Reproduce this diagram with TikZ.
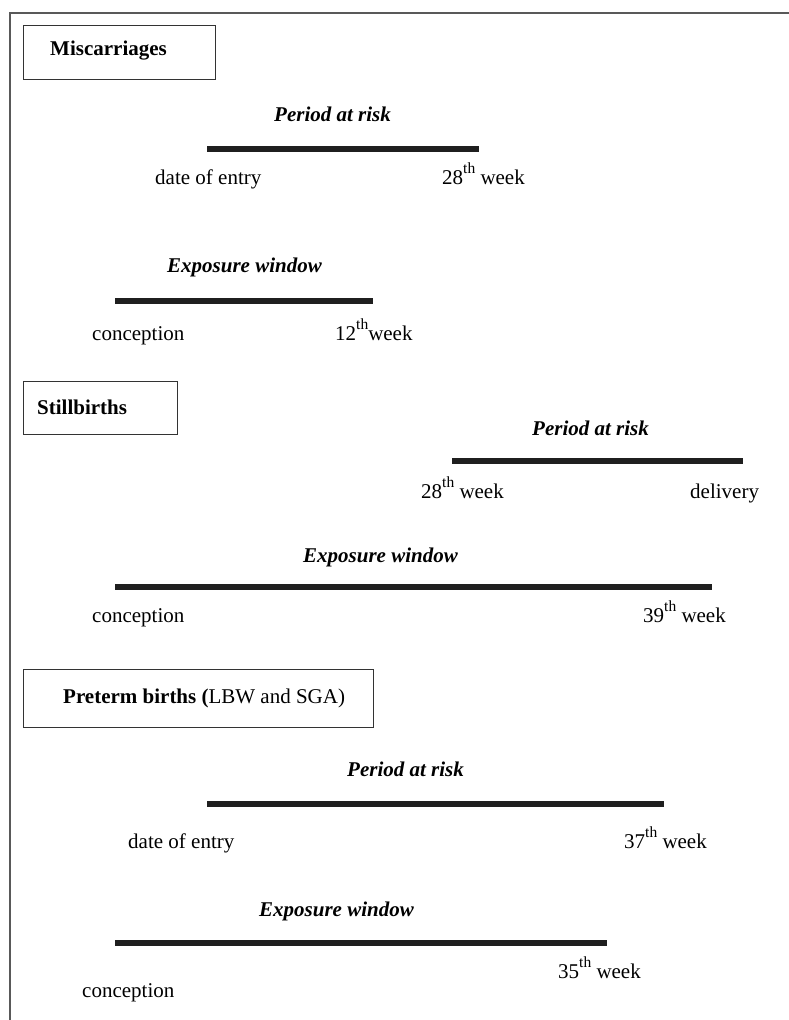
\documentclass[tikz,border=0pt]{standalone}
\usepackage{fontspec}
\setmainfont{Liberation Serif}
\newcommand{\supth}{\raisebox{0.48em}{\fontsize{15.5}{16}\selectfont th}}
\begin{document}
\begin{tikzpicture}[x=1pt,y=-1pt,
  lbl/.style={anchor=base west,inner sep=0pt,font=\fontsize{21}{25}\selectfont},
  ttl/.style={lbl,font=\fontsize{21}{25}\selectfont\bfseries\itshape},
  hdr/.style={lbl,font=\fontsize{21}{25}\selectfont\bfseries},
  bar/.style={line width=5.5pt,color=black!88},
  hbox/.style={draw=black!80,line width=1pt},
  frame/.style={draw=black!65,line width=1.5pt}]
\useasboundingbox (0,0) rectangle (789,1020);
% frame
\coordinate (f1) at (789,13);
\coordinate (f2) at (10,13);
\coordinate (f3) at (10,1020);
\draw[frame] (f1) -- (f2) -- (f3);

% ---------- Miscarriages ----------
\draw[hbox] (23,25) rectangle (215,79);
\node[hdr] (h1) at (50,55) {Miscarriages};
\node[ttl] (t1) at (274,121) {Period at risk};
\coordinate (a1) at (207,149); \coordinate (b1) at (479,149);
\draw[bar] (a1) -- (b1);
\node[lbl] (l1a) at (155,184) {date of entry};
\node[lbl] (l1b) at (442,184) {28\supth{} week};
\node[ttl] (t2) at (167,272) {Exposure window};
\coordinate (a2) at (115,301); \coordinate (b2) at (373,301);
\draw[bar] (a2) -- (b2);
\node[lbl] (l2a) at (92,340) {conception};
\node[lbl] (l2b) at (335,340) {12\supth{}week};

% ---------- Stillbirths ----------
\draw[hbox] (23,381) rectangle (177,434);
\node[hdr] (h2) at (37,414) {Stillbirths};
\node[ttl] (t3) at (532,435) {Period at risk};
\coordinate (a3) at (452,461); \coordinate (b3) at (743,461);
\draw[bar] (a3) -- (b3);
\node[lbl] (l3a) at (421,498) {28\supth{} week};
\node[lbl] (l3b) at (690,498) {delivery};
\node[ttl] (t4) at (303,562) {Exposure window};
\coordinate (a4) at (115,587); \coordinate (b4) at (712,587);
\draw[bar] (a4) -- (b4);
\node[lbl] (l4a) at (92,622) {conception};
\node[lbl] (l4b) at (643,622) {39\supth{} week};

% ---------- Preterm births ----------
\draw[hbox] (23,669) rectangle (373,727);
\node[lbl] (h3) at (63,703) {\textbf{Preterm births (}LBW and SGA)};
\node[ttl] (t5) at (347,776) {Period at risk};
\coordinate (a5) at (207,804); \coordinate (b5) at (664,804);
\draw[bar] (a5) -- (b5);
\node[lbl] (l5a) at (128,848) {date of entry};
\node[lbl] (l5b) at (624,848) {37\supth{} week};
\node[ttl] (t6) at (259,916) {Exposure window};
\coordinate (a6) at (115,943); \coordinate (b6) at (607,943);
\draw[bar] (a6) -- (b6);
\node[lbl] (l6b) at (558,978) {35\supth{} week};
\node[lbl] (l6a) at (82,997) {conception};
\end{tikzpicture}
\end{document}
